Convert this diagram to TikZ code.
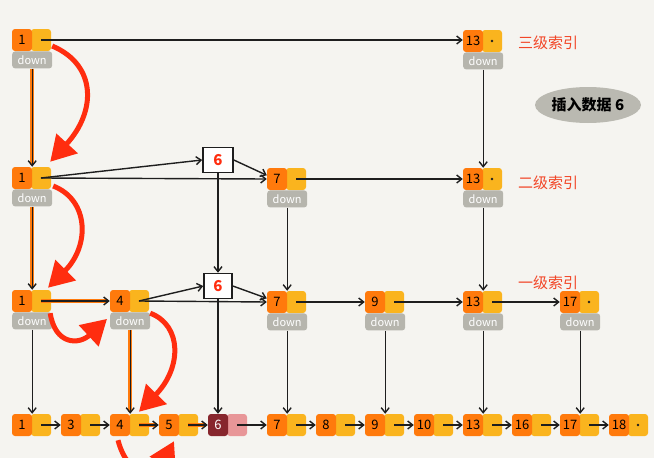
\documentclass[tikz,border=0pt]{standalone}
\usepackage{fontspec}
\newfontfamily\cjk{Noto Sans CJK SC}
\usepackage{tikz}
\usetikzlibrary{calc}
\usetikzlibrary{arrows.meta,shapes.geometric}

\definecolor{bg}{RGB}{245,244,240}
\definecolor{elorange}{RGB}{255,122,12}
\definecolor{elyellow}{RGB}{250,180,30}
\definecolor{downgray}{RGB}{182,181,173}
\definecolor{newred}{RGB}{135,38,45}
\definecolor{newpink}{RGB}{232,150,152}
\definecolor{pathred}{RGB}{255,45,15}
\definecolor{lblred}{RGB}{242,70,40}
\definecolor{notegray}{RGB}{186,185,177}
\definecolor{ink}{RGB}{30,30,30}

\tikzset{
  oel/.style={fill=elorange, rounded corners=3pt, minimum width=20pt, minimum height=22pt, inner sep=0pt, font=\cjk\fontsize{13}{13}\selectfont},
  yel/.style={fill=elyellow, rounded corners=3pt, minimum width=20pt, minimum height=22pt, inner sep=0pt},
  downbox/.style={fill=downgray, rounded corners=3pt, minimum width=40pt, minimum height=17pt, inner sep=0pt, text=white, font=\cjk\fontsize{11}{11}\selectfont},
  link/.style={draw=ink, line width=1.4pt, -{Straight Barb[length=5pt,width=8pt]}},
  hilite/.style={draw=elorange, line width=4.5pt, shorten >=2pt},
  search/.style={draw=pathred, line width=5pt, -{Triangle[length=25pt,width=28pt]}},
  levellbl/.style={text=lblred, anchor=west, inner sep=0pt, font=\cjk\fontsize{15}{15}\selectfont},
  newbox/.style={draw=ink, line width=1.6pt, fill=white, minimum width=30pt, minimum height=25pt, inner sep=0pt, text=pathred, font=\cjk\bfseries\fontsize{15}{15}\selectfont}
}

% list element: name, left x, centre y, key
\newcommand{\listel}[4]{%
  \node[yel] (#1-y) at (#2+29,#3) {};
  \node[oel] (#1) at (#2+10,#3) {#4};
}
\newcommand{\listdown}[1]{\node[downbox, anchor=north] (#1-d) at (#1.south east) {down};}

\begin{document}
\begin{tikzpicture}[x=1pt,y=-1pt]
    \fill[bg] (0,0) rectangle (654,458);
    \useasboundingbox (0,0) rectangle (654,458);
    \clip (0,0) rectangle (654,458);
    \node[ellipse, fill=notegray, minimum width=106pt, minimum height=36pt, inner sep=0pt, font=\cjk\bfseries\fontsize{15}{15}\selectfont] (note) at (588,105) {插入数据 6};

    % level 3
    \listel{a3}{12}{40}{1} \listdown{a3}
    \listel{c3}{463}{41}{13} \listdown{c3}
    \fill[ink] (c3-y) circle (1.4);
    \node[levellbl] (lbl3) at (518,43) {三级索引};

    % level 2
    \listel{a2}{12}{178}{1} \listdown{a2}
    \listel{g2}{267}{179}{7} \listdown{g2}
    \listel{c2}{463}{179}{13} \listdown{c2}
    \fill[ink] (c2-y) circle (1.4);
    \node[levellbl] (lbl2) at (518,183) {二级索引};
    \node[newbox] (s2) at (218,160) {6};

    % level 1
    \listel{a1}{12}{301}{1} \listdown{a1}
    \listel{d1}{110}{301}{4} \listdown{d1}
    \listel{g1}{267}{302}{7} \listdown{g1}
    \listel{i1}{365}{302}{9} \listdown{i1}
    \listel{c1}{463}{302}{13} \listdown{c1}
    \listel{q1}{560}{302}{17} \listdown{q1}
    \fill[ink] (q1-y) circle (1.4);
    \node[levellbl] (lbl1) at (518,283) {一级索引};
    \node[newbox, minimum width=28pt] (s1) at (218,286) {6};

    % original list
    \foreach \k/\x in {1/12,3/61,4/110,5/159,7/267,8/316,9/365,10/414,13/463,16/512,17/560,18/609}
      {\listel{b\k}{\x}{425}{\k}}
    \node[yel, fill=newpink] (b6-y) at (237,425) {};
    \node[oel, fill=newred, text=white] (b6) at (218,425) {6};
    \fill[ink] (b18-y) circle (1.4);

    % search path underlay
    \draw[hilite] (a3-d.south) -- (a3-d.south |- a2.north);
    \draw[hilite] (a2-d.south) -- (a2-d.south |- a1.north);
    \draw[hilite] (a1-y.center) -- (d1.west);
    \draw[hilite] (d1-d.south) -- (d1-d.south |- b4.north);
    \draw[hilite] (b4-y.center) -- (b5.west);
    \draw[hilite] (b5-y.center) -- (b6.west);

    % links
    \draw[link] (a3-y.center) -- (a3-y.center -| c3.west);
    \draw[link] (a3-d.south) -- (a3-d.south |- a2.north);
    \draw[link] (c3-d.south) -- (c3-d.south |- c2.north);
    \draw[link] (a2-y.center) -- (s2.west);
    \draw[link] (s2.east) -- (g2.160);
    \draw[link] (a2-y.center) -- (g2.west);
    \draw[link] (g2-y.center) -- (c2.west);
    \foreach \u/\v in {a2/a1,g2/g1,c2/c1}
      \draw[link] (\u-d.south) -- (\u-d.south |- \v.north);
    \draw[link] (s2) -- (s1);
    \draw[link] (a1-y.center) -- (d1.west);
    \draw[link] (d1-y.center) -- (s1.west);
    \draw[link] (s1.east) -- (g1.160);
    \draw[link] (d1-y.center) -- (g1.west);
    \draw[link] (g1-y.center) -- (i1.west);
    \draw[link] (i1-y.center) -- (c1.west);
    \draw[link] (c1-y.center) -- (q1.west);
    \draw[link] (s1) -- (b6);
    \foreach \u/\v in {a1/b1,d1/b4,g1/b7,i1/b9,c1/b13,q1/b17}
      \draw[link] (\u-d.south) -- (\u-d.south |- \v.north);
    \foreach \u/\v in {1/3,3/4,4/5,5/6,6/7,7/8,8/9,9/10,10/13,13/16,16/17,17/18}
      \draw[link] (b\u-y.center) -- (b\v.west);

    % search path
    \draw[search] ($(a3-y.east)+(1,6)$) .. controls +(45,19) and +(46,-50) .. ($(a2-y.north east)+(-1,-5)$);
    \draw[search] ($(a2-y.east)+(2,8)$) .. controls +(36,14) and +(42,-42) .. ($(a1-y.north)+(7,-2)$);
    \draw[search] ($(a1-y.south east)+(-1,1)$) .. controls +(5,32) and +(-28,26) .. ($(d1-d.west)+(-3,-2)$);
    \draw[search] ($(d1-y.south east)+(1,1)$) .. controls +(32,12) and +(43,-44) .. ($(b4-y.north)+(0,-2)$);
    \draw[search] ($(b4.south)+(-2,4)$) .. controls +(10,38) and +(-19,37) .. ($(b5.south)+(5,5)$);
\end{tikzpicture}
\end{document}
